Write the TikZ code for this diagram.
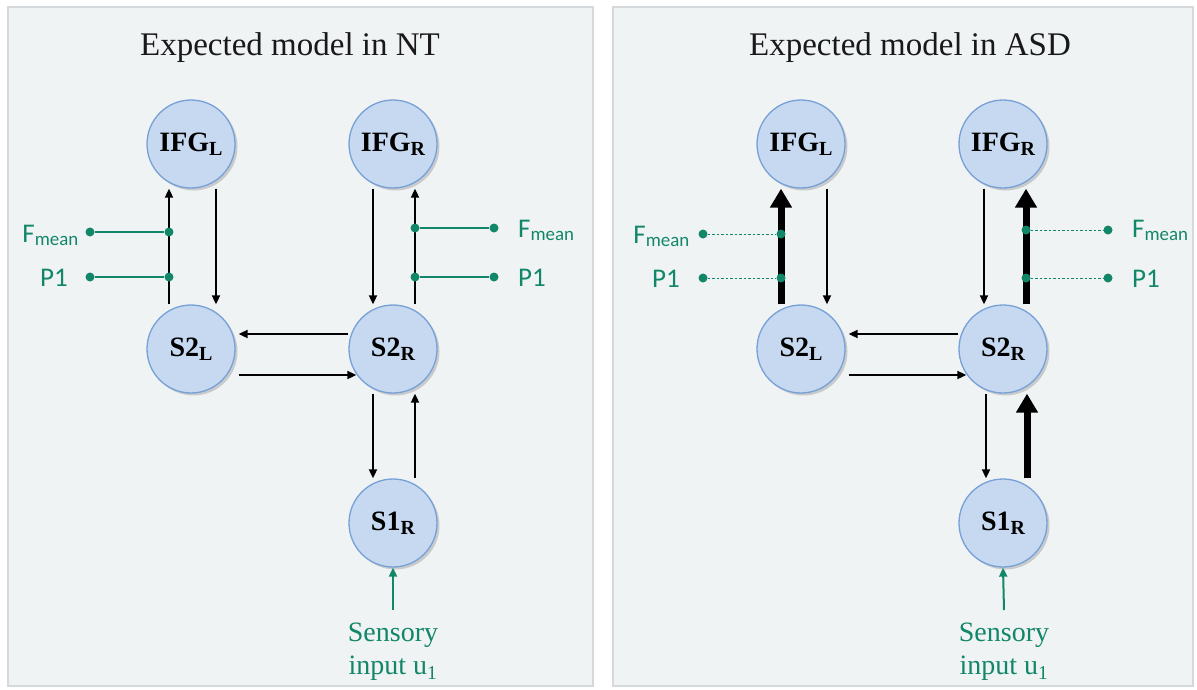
\documentclass[tikz,border=0pt]{standalone}
\usepackage{fontspec}
\setmainfont{Liberation Serif}
\newfontfamily\calibfont{Carlito}
\usetikzlibrary{arrows.meta,shadows}

\definecolor{nodefill}{RGB}{198,217,240}
\definecolor{nodeedge}{RGB}{118,160,214}
\definecolor{tealgreen}{RGB}{18,134,104}
\definecolor{panelfill}{RGB}{240,243,244}
\definecolor{paneledge}{RGB}{214,217,219}

\newcommand{\lowsub}[1]{\raisebox{-0.3ex}{\fontsize{20}{20}\selectfont #1}}

\begin{document}
\begin{tikzpicture}[x=1pt,y=-1pt,
  region/.style={circle, minimum size=88pt, inner sep=0pt, fill=nodefill,
    draw=nodeedge, line width=1.3pt, font=\fontsize{28}{30}\selectfont\bfseries,
    drop shadow={shadow xshift=2.5pt, shadow yshift=-2.5pt, opacity=0.35}},
  fb/.style={black, line width=1.8pt, -{Triangle[length=9pt, width=8pt]}},
  strongfb/.style={black, line width=7pt, -{Triangle[length=19pt, width=21pt]}},
  wire/.style={tealgreen, line width=2.4pt},
  dashwire/.style={tealgreen, line width=0.9pt, dash pattern=on 2.5pt off 2pt},
  dot/.style={circle, fill=tealgreen, inner sep=0pt, minimum size=9pt},
  grlabel/.style={tealgreen, inner sep=0pt, font=\calibfont\fontsize{27}{30}\selectfont},
  sens/.style={tealgreen, inner sep=0pt, anchor=north, align=center,
    font=\fontsize{28}{33}\selectfont},
  sensarrow/.style={tealgreen, line width=2pt, -{Triangle[length=9pt, width=8pt]}},
  heading/.style={anchor=base, inner sep=0pt, text=black!90, font=\fontsize{33}{36}\selectfont},
  panelbox/.style={fill=panelfill, draw=paneledge, line width=1.5pt}]
\useasboundingbox (0,0) rectangle (1197,689);

% panels
\draw[panelbox] (8,7) rectangle (593,686);
\draw[panelbox] (613,7) rectangle (1193,686);
\node[heading] (ttlNT) at (290,55) {Expected model in NT};
\node[heading] (ttlASD) at (910,55) {Expected model in ASD};

% ---- NT model
\node[region] (ifgLn) at (191,144) {IFG\lowsub{L}};
\node[region] (ifgRn) at (393,144) {IFG\lowsub{R}};
\node[region] (s2Ln) at (191,349) {S2\lowsub{L}};
\node[region] (s2Rn) at (393,349) {S2\lowsub{R}};
\node[region] (s1Rn) at (393,523) {S1\lowsub{R}};

\draw[fb] ([xshift=-22pt]s2Ln.north) -- ([xshift=-22pt]ifgLn.south);
\draw[fb] ([xshift=25pt]ifgLn.south) -- ([xshift=25pt]s2Ln.north);
\draw[fb] ([xshift=-20pt]ifgRn.south) -- ([xshift=-20pt]s2Rn.north);
\draw[fb] ([xshift=22pt]s2Rn.north) -- ([xshift=22pt]ifgRn.south);
\draw[fb] ([yshift=15pt]s2Rn.west) -- ([xshift=3pt,yshift=15pt]s2Ln.east);
\draw[fb] ([xshift=3pt,yshift=-26pt]s2Ln.east) -- ([xshift=8pt,yshift=-26pt]s2Rn.west);
\draw[fb] ([xshift=-20pt]s2Rn.south) -- ([xshift=-20pt]s1Rn.north);
\draw[fb] ([xshift=22pt]s1Rn.north) -- ([xshift=22pt]s2Rn.south);

\node[dot] (fmLen) at (90,232) {};
\node[dot] (fmLjn) at (169,232) {};
\node[dot] (p1Len) at (90,277) {};
\node[dot] (p1Ljn) at (169,277) {};
\node[dot] (fmRjn) at (415,228) {};
\node[dot] (fmRen) at (494,228) {};
\node[dot] (p1Rjn) at (415,277) {};
\node[dot] (p1Ren) at (494,277) {};
\draw[wire] (fmLen) -- (fmLjn);
\draw[wire] (p1Len) -- (p1Ljn);
\draw[wire] (fmRjn) -- (fmRen);
\draw[wire] (p1Rjn) -- (p1Ren);
\node[grlabel, anchor=base east] (tfmLn) at (79,242) {F\textsubscript{mean}};
\node[grlabel, anchor=base east] (tp1Ln) at (68,286) {P1};
\node[grlabel, anchor=base west] (tfmRn) at (518,237) {F\textsubscript{mean}};
\node[grlabel, anchor=base west] (tp1Rn) at (518,286) {P1};

\node[sens] (inpn) at (393,623) {Sensory\\input u\textsubscript{1}};
\draw[sensarrow] ([yshift=13pt]inpn.north) -- (s1Rn.south);

% ---- ASD model
\node[region] (ifgLa) at (801,144) {IFG\lowsub{L}};
\node[region] (ifgRa) at (1003,144) {IFG\lowsub{R}};
\node[region] (s2La) at (801,349) {S2\lowsub{L}};
\node[region] (s2Ra) at (1003,349) {S2\lowsub{R}};
\node[region] (s1Ra) at (1003,523) {S1\lowsub{R}};

\draw[strongfb] ([xshift=-20pt]s2La.north) -- ([xshift=-20pt]ifgLa.south);
\draw[fb] ([xshift=26pt]ifgLa.south) -- ([xshift=26pt]s2La.north);
\draw[fb] ([xshift=-19pt]ifgRa.south) -- ([xshift=-19pt]s2Ra.north);
\draw[strongfb] ([xshift=23pt]s2Ra.north) -- ([xshift=23pt]ifgRa.south);
\draw[fb] ([yshift=15pt]s2Ra.west) -- ([xshift=3pt,yshift=15pt]s2La.east);
\draw[fb] ([xshift=3pt,yshift=-26pt]s2La.east) -- ([xshift=8pt,yshift=-26pt]s2Ra.west);
\draw[fb] ([xshift=-17pt]s2Ra.south) -- ([xshift=-17pt]s1Ra.north);
\draw[strongfb] ([xshift=24pt]s1Ra.north) -- ([xshift=24pt]s2Ra.south);

\node[dot] (fmLea) at (703,234) {};
\node[dot] (fmLja) at (781,234) {};
\node[dot] (p1Lea) at (703,278) {};
\node[dot] (p1Lja) at (781,278) {};
\node[dot] (fmRja) at (1026,230) {};
\node[dot] (fmRea) at (1108,230) {};
\node[dot] (p1Rja) at (1026,278) {};
\node[dot] (p1Rea) at (1108,278) {};
\draw[dashwire] (fmLea) -- (fmLja);
\draw[dashwire] (p1Lea) -- (p1Lja);
\draw[dashwire] (fmRja) -- (fmRea);
\draw[dashwire] (p1Rja) -- (p1Rea);
\node[grlabel, anchor=base east] (tfmLa) at (690,243) {F\textsubscript{mean}};
\node[grlabel, anchor=base east] (tp1La) at (680,287) {P1};
\node[grlabel, anchor=base west] (tfmRa) at (1132,237) {F\textsubscript{mean}};
\node[grlabel, anchor=base west] (tp1Ra) at (1132,287) {P1};

\node[sens] (inpa) at (1004,623) {Sensory\\input u\textsubscript{1}};
\draw[sensarrow] ([yshift=13pt]inpa.north) -- (s1Ra.south);
\end{tikzpicture}
\end{document}
